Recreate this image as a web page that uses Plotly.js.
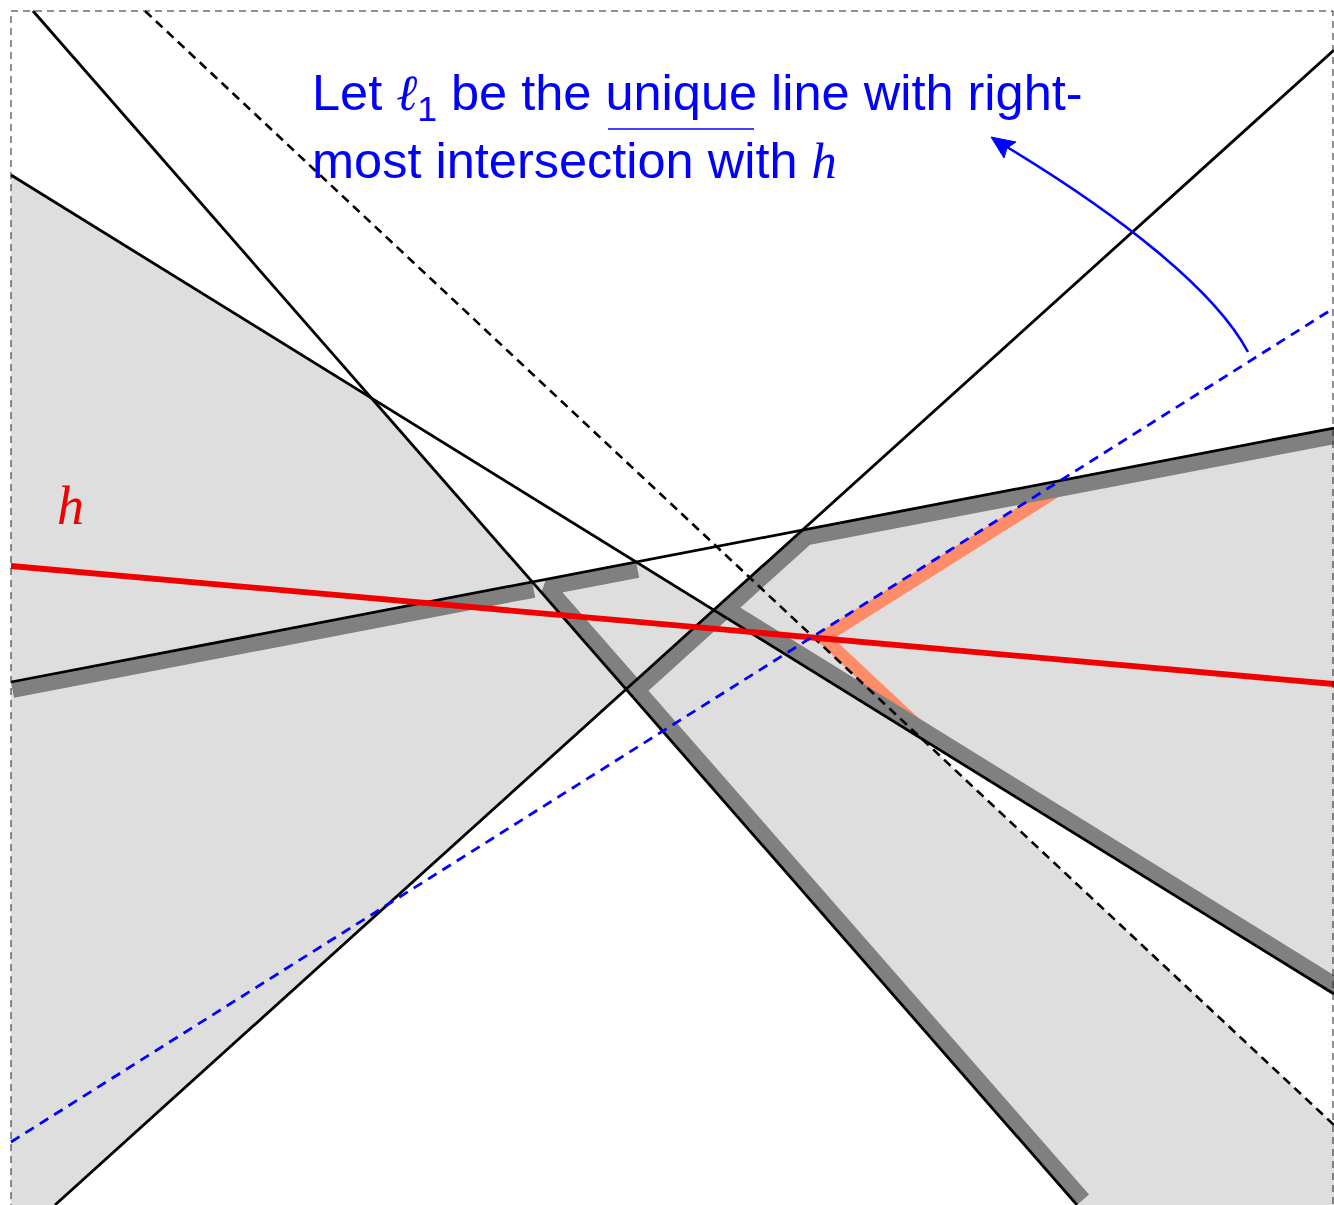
<!DOCTYPE html>
<html><head><meta charset="utf-8">
<script src="https://cdn.plot.ly/plotly-3.0.1.min.js"></script>
<style>html,body{margin:0;padding:0;background:#fff}</style>
</head><body><div id="chart" style="width:1334px;height:1205px"></div>
<script>
// Lines of the arrangement, each given by two end points (picture units, y down)
const lineNames = ['A', 'B', 'C', 'D', 'K', 'blue', 'h'];
const lineX0 = [33, 11, 55, 11, 145, 11, 11];
const lineY0 = [11, 175, 1205, 682, 11, 1142, 566];
const lineX1 = [1077, 1334, 1334, 1334, 1334, 1334, 1334];
const lineY1 = [1205, 994, 50, 428, 1125, 308, 684];

// Texts
const noteLine1 = 'Let <span style="font-family:\'DejaVu Serif\';font-style:italic">ℓ</span><sub>1</sub> be the unique line with right-';
const noteLine2 = 'most intersection with <span style="font-family:\'Liberation Serif\';font-style:italic">h</span>';
const hLabel = '<i>h</i>';

function Ln(name){const i=lineNames.indexOf(name);return {p:[lineX0[i],lineY0[i]],q:[lineX1[i],lineY1[i]]};}
function dir(l){const dx=l.q[0]-l.p[0],dy=l.q[1]-l.p[1],n=Math.hypot(dx,dy);return [dx/n,dy/n];}
function nrm(l){const d=dir(l);return [-d[1],d[0]];}
function off(l,s){const n=nrm(l);return {p:[l.p[0]+s*n[0],l.p[1]+s*n[1]],q:[l.q[0]+s*n[0],l.q[1]+s*n[1]]};}
function shift(pt,l,s){const n=nrm(l);return [pt[0]+s*n[0],pt[1]+s*n[1]];}
function X(a,b){
  const x1=a.p[0],y1=a.p[1],x2=a.q[0],y2=a.q[1],x3=b.p[0],y3=b.p[1],x4=b.q[0],y4=b.q[1];
  const den=(x1-x2)*(y3-y4)-(y1-y2)*(x3-x4);
  const t=((x1-x3)*(y3-y4)-(y1-y3)*(x3-x4))/den;
  return [x1+t*(x2-x1),y1+t*(y2-y1)];
}
const A=Ln('A'),B=Ln('B'),C=Ln('C'),D=Ln('D'),K=Ln('K'),BL=Ln('blue'),H=Ln('h');
const g=8, o=6.5;
const Ar=off(A,-g),Ba=off(B,-g),Cr=off(C,g),Db=off(D,g);
const BLb=off(BL,o),Kr=off(K,-o);

function poly(pts){return {x:pts.map(p=>p[0]),y:pts.map(p=>p[1])};}
const traces=[];
function add(pts,opt){traces.push(Object.assign({type:'scatter',mode:'lines',hoverinfo:'skip',showlegend:false},poly(pts),opt));}

// shaded cells
const fillOpt={fill:'toself',fillcolor:'#dedede',line:{width:0,color:'rgba(0,0,0,0)'}};
add([B.p, X(A,B), X(A,C), C.p, [11,1205]], fillOpt);
add([X(A,D), X(B,D), X(B,C), X(C,D), D.q, B.q, X(B,K), K.q, [1334,1205], A.q], fillOpt);

// orange band
add([shift(X(BL,D),BL,o), X(BLb,Kr), shift(X(K,B),K,-o)], {line:{color:'#ff8c69',width:13}});

// gray level bands
const bandOpt={line:{color:'#808080',width:16}};
add([shift(D.p,D,g), shift(X(A,D),D,g)], bandOpt);
add([shift(X(B,D),D,g), X(Db,Ar), shift(A.q,A,-g)], bandOpt);
add([X(Ar,Cr), X(Cr,Db), shift(D.q,D,g)], bandOpt);
add([X(Cr,Ba), shift(B.q,B,-g)], bandOpt);

// black lines
[A,B,C,D].forEach(l=>add([l.p,l.q],{line:{color:'#000',width:2.8}}));
add([K.p,K.q],{line:{color:'#000',width:2.6,dash:'9px,6px'}});
// red h
add([H.p,H.q],{line:{color:'#f00000',width:5.8}});
// blue dashed
add([BL.p,BL.q],{line:{color:'#0000ff',width:2.8,dash:'10px,7px'}});

const layout={
  width:1334,height:1205,margin:{l:0,r:0,t:0,b:0},
  xaxis:{range:[0,1334],visible:false,fixedrange:true},
  yaxis:{range:[1205,0],visible:false,fixedrange:true},
  plot_bgcolor:'#fff',paper_bgcolor:'#fff',showlegend:false,
  shapes:[
    {type:'rect',xref:'x',yref:'y',x0:11,y0:11,x1:1333,y1:1215,line:{color:'#222',width:1,dash:'7px,5px'}},
    {type:'path',xref:'x',yref:'y',path:'M 1248,352 C 1215,290 1120,215 1002,144',line:{color:'#0000ff',width:2.6}},
    {type:'path',xref:'x',yref:'y',path:'M 991,137 L 1016,142 L 1007,148 L 1004,158 Z',fillcolor:'#0000ff',line:{color:'#0000ff',width:1}},
    {type:'line',xref:'x',yref:'y',x0:608,x1:754,y0:129,y1:129,line:{color:'#0000ff',width:1.6}}
  ],
  annotations:[
    {x:310,y:95,xref:'x',yref:'y',xanchor:'left',yanchor:'middle',showarrow:false,text:noteLine1,font:{family:'Liberation Sans',size:50.5,color:'#0000ff'}},
    {x:310,y:160,xref:'x',yref:'y',xanchor:'left',yanchor:'middle',showarrow:false,text:noteLine2,font:{family:'Liberation Sans',size:50.5,color:'#0000ff'}},
    {x:70,y:506,xref:'x',yref:'y',xanchor:'center',yanchor:'middle',showarrow:false,text:hLabel,font:{family:'Liberation Serif',size:54,color:'#f00000'}}
  ]
};
Plotly.newPlot('chart',traces,layout,{staticPlot:true,displayModeBar:false});
</script></body></html>
